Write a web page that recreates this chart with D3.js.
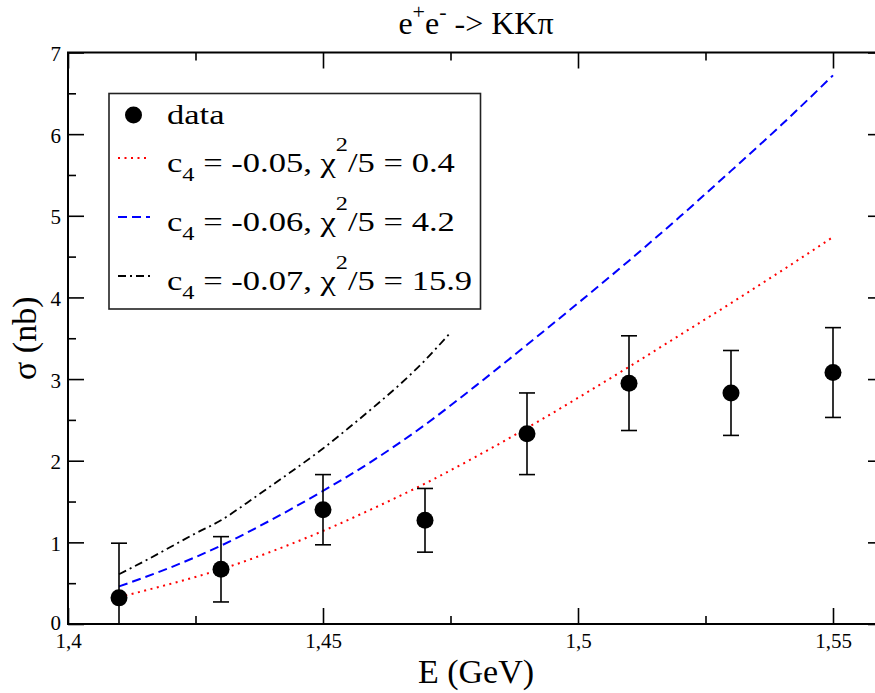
<!DOCTYPE html>
<html>
<head>
<meta charset="utf-8">
<script src="https://cdn.jsdelivr.net/npm/d3@7"></script>
<style>
  html, body { margin: 0; padding: 0; background: #fff; }
  svg { display: block; }
  svg text { font-family: "Liberation Serif", "Times New Roman", Times, serif; }
</style>
</head>
<body>
<svg id="chart" width="875" height="693"></svg>
<script>
// ---- data ----
const dataE = [1.41, 1.43, 1.45, 1.47, 1.49, 1.51, 1.53, 1.55];
const dataSigma = [0.32, 0.67, 1.40, 1.27, 2.33, 2.95, 2.83, 3.08];
const dataErr = [0.67, 0.40, 0.43, 0.39, 0.50, 0.58, 0.52, 0.55];

const redE = [1.41, 1.42, 1.43, 1.44, 1.45, 1.46, 1.47, 1.48, 1.49, 1.50, 1.51, 1.52, 1.53, 1.54, 1.55];
const redSigma = [0.33, 0.49, 0.67, 0.89, 1.14, 1.42, 1.72, 2.05, 2.40, 2.77, 3.15, 3.54, 3.93, 4.33, 4.74];

const blueE = [1.41, 1.42, 1.43, 1.44, 1.45, 1.46, 1.47, 1.48, 1.49, 1.50, 1.51, 1.52, 1.53, 1.54, 1.55];
const blueSigma = [0.46, 0.69, 0.96, 1.28, 1.63, 2.01, 2.44, 2.92, 3.42, 3.93, 4.45, 4.99, 5.55, 6.12, 6.72];

const blackE = [1.41, 1.415, 1.42, 1.425, 1.43, 1.435, 1.44, 1.445, 1.45, 1.455, 1.46, 1.465, 1.47, 1.475];
const blackSigma = [0.61, 0.77, 0.94, 1.11, 1.27, 1.48, 1.70, 1.92, 2.15, 2.40, 2.66, 2.93, 3.23, 3.57];

const xMajorTicks = [1.4, 1.45, 1.5, 1.55];
const xTickLabels = ["1,4", "1,45", "1,5", "1,55"];
const xMinorTicks = [1.425, 1.475, 1.525];
const yMajorTicks = [0, 1, 2, 3, 4, 5, 6, 7];
const yTickLabels = ["0", "1", "2", "3", "4", "5", "6", "7"];
const yMinorTicks = [0.5, 1.5, 2.5, 3.5, 4.5, 5.5, 6.5];

const legendRows = [
  { c4: "-0.05", chi: "0.4",  color: "#ff0000", dash: "2,4.5", width: 2 },
  { c4: "-0.06", chi: "4.2",  color: "#0000ff", dash: "9,5",   width: 2 },
  { c4: "-0.07", chi: "15.9", color: "#000000", dash: "8,4,2,4", width: 1.8 }
];

// ---- layout ----
const FONT = "'Liberation Serif', 'Times New Roman', Times, serif";
const L = 68, R = 884, T = 52.5, B = 624;
const svg = d3.select("#chart");
const x = d3.scaleLinear().domain([1.4, 1.56]).range([L, R]);
const y = d3.scaleLinear().domain([0, 7]).range([B, T]);

svg.append("defs").append("clipPath").attr("id", "clip")
  .append("rect").attr("x", L).attr("y", T).attr("width", R - L).attr("height", B - T);

function styleAxis(g) {
  g.attr("font-family", FONT);
  g.select(".domain").remove();
  g.selectAll(".tick line").attr("stroke", "#000").attr("stroke-width", 1.6);
  g.selectAll(".tick text").attr("fill", "#000").attr("font-family", FONT);
}

// bottom axis
svg.append("g").attr("transform", `translate(0,${B})`)
  .call(d3.axisBottom(x).tickValues(xMajorTicks).tickSize(-16).tickPadding(9)
    .tickFormat((d, i) => xTickLabels[i]))
  .call(styleAxis)
  .call(g => g.selectAll("text").attr("font-size", 21));
svg.append("g").attr("transform", `translate(0,${B})`)
  .call(d3.axisBottom(x).tickValues(xMinorTicks).tickSize(-8).tickFormat(""))
  .call(styleAxis);
// top axis
svg.append("g").attr("transform", `translate(0,${T})`)
  .call(d3.axisTop(x).tickValues(xMajorTicks).tickSize(-16).tickFormat(""))
  .call(styleAxis);
svg.append("g").attr("transform", `translate(0,${T})`)
  .call(d3.axisTop(x).tickValues(xMinorTicks).tickSize(-8).tickFormat(""))
  .call(styleAxis);
// left axis
svg.append("g").attr("transform", `translate(${L},0)`)
  .call(d3.axisLeft(y).tickValues(yMajorTicks).tickSize(-16).tickPadding(7)
    .tickFormat((d, i) => yTickLabels[i]))
  .call(styleAxis)
  .call(g => g.selectAll("text").attr("font-size", 21).attr("dy", d => d === 0 ? "0.28em" : "0.38em"));
svg.append("g").attr("transform", `translate(${L},0)`)
  .call(d3.axisLeft(y).tickValues(yMinorTicks).tickSize(-8).tickFormat(""))
  .call(styleAxis);
// right axis
svg.append("g").attr("transform", `translate(${R},0)`)
  .call(d3.axisRight(y).tickValues(yMajorTicks).tickSize(-16).tickFormat(""))
  .call(styleAxis);
svg.append("g").attr("transform", `translate(${R},0)`)
  .call(d3.axisRight(y).tickValues(yMinorTicks).tickSize(-8).tickFormat(""))
  .call(styleAxis);

// frame
svg.append("rect").attr("x", L).attr("y", T).attr("width", R - L).attr("height", B - T)
  .attr("fill", "none").attr("stroke", "#000").attr("stroke-width", 2);

// curves
const plot = svg.append("g").attr("clip-path", "url(#clip)");
const line = d3.line().x(d => x(d[0])).y(d => y(d[1])).curve(d3.curveMonotoneX);
const curves = [
  { E: redE, S: redSigma, row: legendRows[0] },
  { E: blueE, S: blueSigma, row: legendRows[1] },
  { E: blackE, S: blackSigma, row: legendRows[2] }
];
curves.forEach(c => {
  plot.append("path")
    .attr("d", line(c.E.map((e, i) => [e, c.S[i]])))
    .attr("fill", "none")
    .attr("stroke", c.row.color)
    .attr("stroke-width", c.row.width)
    .attr("stroke-dasharray", c.row.dash);
});

// error bars + points
const pts = dataE.map((e, i) => ({ e, s: dataSigma[i], err: dataErr[i] }));
const eb = plot.append("g").attr("stroke", "#000").attr("stroke-width", 1.6);
pts.forEach(p => {
  eb.append("line").attr("x1", x(p.e)).attr("x2", x(p.e))
    .attr("y1", y(p.s + p.err)).attr("y2", y(p.s - p.err));
  eb.append("line").attr("x1", x(p.e) - 8).attr("x2", x(p.e) + 8)
    .attr("y1", y(p.s + p.err)).attr("y2", y(p.s + p.err));
  eb.append("line").attr("x1", x(p.e) - 8).attr("x2", x(p.e) + 8)
    .attr("y1", y(p.s - p.err)).attr("y2", y(p.s - p.err));
});
plot.append("g").selectAll("circle").data(pts).join("circle")
  .attr("cx", d => x(d.e)).attr("cy", d => y(d.s)).attr("r", 8.5).attr("fill", "#000");

// title
const title = svg.append("text").attr("x", (L + R) / 2).attr("y", 34)
  .attr("text-anchor", "middle").attr("font-size", 32).attr("font-family", FONT).attr("fill", "#000");
title.append("tspan").text("e");
title.append("tspan").attr("dy", -15).attr("font-size", 22).text("+");
title.append("tspan").attr("dy", 15).text("e");
title.append("tspan").attr("dy", -15).attr("font-size", 22).text("-");
title.append("tspan").attr("dy", 15).text(" -> KKπ");

// axis labels
svg.append("text").attr("x", (L + R) / 2).attr("y", 683).attr("font-family", FONT)
  .attr("text-anchor", "middle").attr("font-size", 34).text("E (GeV)");
svg.append("text").attr("transform", `translate(36,${(T + B) / 2}) rotate(-90)`).attr("font-family", FONT)
  .attr("text-anchor", "middle").attr("font-size", 34).text("σ (nb)");

// legend
const lg = svg.append("g").attr("font-family", FONT);
lg.append("rect").attr("x", 109).attr("y", 93.5).attr("width", 371.5).attr("height", 215.5)
  .attr("fill", "#fff").attr("stroke", "#222").attr("stroke-width", 1.6);
lg.append("circle").attr("cx", 133.5).attr("cy", 115).attr("r", 8.5).attr("fill", "#000");
const legendTexts = [];
legendTexts.push(lg.append("text").attr("font-size", 27).attr("font-family", FONT).text("data"));
const rowBase = [124, 172, 231, 290];
legendRows.forEach((r, i) => {
  const by = rowBase[i + 1];
  lg.append("line").attr("x1", 118).attr("x2", 150).attr("y1", by - 14).attr("y2", by - 14)
    .attr("stroke", r.color).attr("stroke-width", r.width).attr("stroke-dasharray", r.dash);
  const t = lg.append("text").attr("font-size", 27).attr("font-family", FONT);
  t.append("tspan").text("c");
  t.append("tspan").attr("dy", 9).attr("font-size", 19).text("4");
  t.append("tspan").attr("dy", -9).text(" = " + r.c4 + ", χ");
  t.append("tspan").attr("dy", -21).attr("font-size", 19).text("2");
  t.append("tspan").attr("dy", 21).text("/5 = " + r.chi);
  legendTexts.push(t);
});
// the reference legend text is drawn horizontally stretched: fit row 2 to its width
const w2 = legendTexts[1].node().getComputedTextLength();
const sx = w2 > 0 ? 288 / w2 : 1.2;
legendTexts.forEach((t, i) => t.attr("transform", `translate(167,${rowBase[i]}) scale(${sx},1)`));
</script>
</body>
</html>
